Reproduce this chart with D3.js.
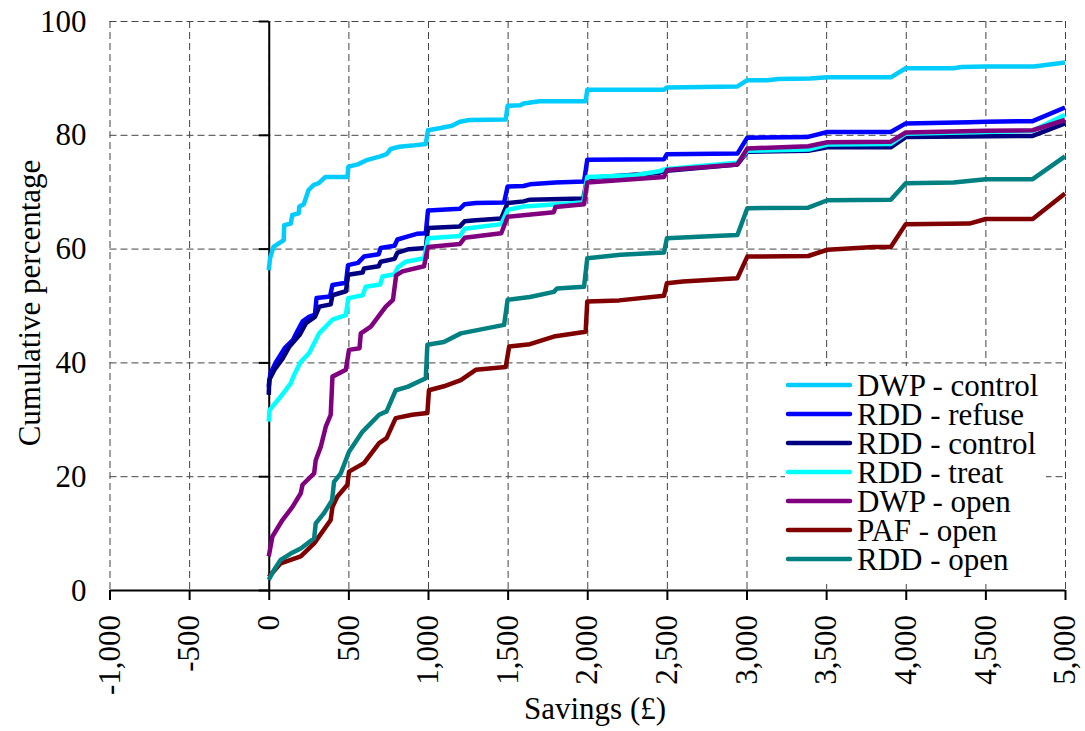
<!DOCTYPE html>
<html>
<head>
<meta charset="utf-8">
<script src="https://cdn.jsdelivr.net/npm/d3@7"></script>
<style>
  body { margin: 0; background: #fff; }
  .grid line { stroke: #444; stroke-width: 1; stroke-dasharray: 7,4; }
  .grid path { display: none; }
  .axis path, .axis line { stroke: #000; stroke-width: 2; }
</style>
</head>
<body>
<div id="chart"></div>
<script>
// axis ticks
var xTicks = [-1000, -500, 0, 500, 1000, 1500, 2000, 2500, 3000, 3500, 4000, 4500, 5000];
var yTicks = [0, 20, 40, 60, 80, 100];

// series: [savings, cumulative %]
var seriesNames = ["DWP - control", "RDD - refuse", "RDD - control", "RDD - treat", "DWP - open", "PAF - open", "RDD - open"];
var seriesColors = ["#00ccff", "#0000ff", "#000080", "#00ffff", "#800080", "#800000", "#008080"];

var dwpControl = [[0,56.2],[8,58.3],[30,60.3],[94,61.5],[97,64.1],[138,64.4],[148,65.9],[188,66.2],[192,67.4],[220,67.8],[250,70.3],[283,71.2],[314,71.5],[356,72.6],[494,72.6],[500,74.4],[560,74.8],[620,75.6],[700,76.2],[740,76.6],[766,77.5],[820,77.9],[900,78.1],[986,78.4],[1000,80.8],[1080,81.2],[1150,81.6],[1200,82.3],[1260,82.6],[1488,82.7],[1500,85.1],[1580,85.2],[1600,85.5],[1700,85.9],[1990,85.9],[2000,87.9],[2482,87.9],[2500,88.3],[2943,88.5],[3005,89.6],[3130,89.6],[3200,89.8],[3400,89.9],[3508,90.1],[3906,90.1],[4000,91.7],[4300,91.7],[4350,91.9],[4502,92.0],[4806,92.0],[5000,92.7]];
var rddRefuse = [[0,35.7],[10,38.0],[46,40.1],[100,42.5],[151,43.9],[180,45.5],[213,47.2],[253,48.0],[290,48.4],[300,51.3],[385,51.6],[400,53.6],[485,54.0],[498,57.1],[560,57.5],[598,58.6],[690,59.0],[703,60.1],[790,60.5],[808,61.6],[880,62.2],[930,62.6],[986,62.7],[1000,66.7],[1200,67.0],[1230,67.8],[1300,68.0],[1478,68.1],[1500,70.9],[1600,71.0],[1640,71.3],[1800,71.6],[1980,71.8],[2000,75.6],[2482,75.7],[2500,76.6],[2943,76.7],[3005,79.5],[3380,79.6],[3508,80.5],[3906,80.5],[4000,82.0],[4400,82.2],[4502,82.3],[4797,82.4],[5000,84.8]];
var rddControl = [[0,34.3],[3,36.9],[36,38.7],[88,40.7],[130,42.8],[193,44.8],[234,46.9],[290,48.0],[318,49.8],[389,50.2],[400,51.8],[485,52.5],[498,55.4],[590,55.8],[598,56.5],[690,56.9],[703,57.7],[790,58.2],[808,59.3],[880,59.9],[986,60.1],[1000,63.6],[1200,63.9],[1230,64.8],[1300,65.0],[1460,65.3],[1500,68.0],[1600,68.3],[1640,68.6],[1975,68.8],[2000,72.4],[2450,73.3],[2500,73.7],[2943,74.8],[3005,77.0],[3388,77.2],[3508,77.8],[3906,77.8],[4000,79.6],[4797,79.8],[5000,82.0]];
var rddTreat = [[0,29.6],[5,31.6],[75,34.0],[138,36.3],[159,37.8],[201,40.1],[253,41.6],[295,43.9],[316,45.1],[400,47.5],[484,48.3],[500,51.3],[590,51.8],[609,53.3],[700,53.7],[714,55.1],[790,55.5],[810,56.7],[860,57.7],[975,58.3],[1000,61.8],[1200,62.2],[1230,63.5],[1460,64.3],[1500,66.8],[1600,67.4],[1975,68.1],[2000,72.6],[2300,72.9],[2450,73.6],[2500,74.0],[2943,75.1],[3005,77.2],[3388,77.4],[3508,78.3],[3906,78.4],[4000,80.2],[4797,80.7],[5000,83.5]];
var dwpOpen = [[0,5.9],[23,9.4],[86,12.3],[149,14.6],[201,17.0],[212,18.5],[285,20.5],[295,22.8],[327,25.2],[358,28.7],[389,30.8],[400,37.5],[484,38.7],[504,42.2],[570,42.5],[578,45.1],[641,46.3],[703,48.6],[735,49.8],[780,51.0],[800,55.3],[840,56.0],[975,56.9],[1000,60.3],[1200,60.8],[1230,61.9],[1460,62.7],[1500,65.6],[1790,66.4],[1800,67.3],[1980,67.8],[2000,71.6],[2482,72.6],[2500,73.8],[2943,74.8],[3005,77.6],[3388,78.0],[3508,78.7],[3906,78.8],[4000,80.4],[4502,80.7],[4797,80.8],[5000,82.6]];
var pafOpen = [[0,2.3],[75,4.7],[201,5.9],[285,8.2],[389,12.3],[400,14.6],[430,16.4],[494,18.5],[504,20.8],[598,22.3],[693,25.8],[740,26.7],[797,30.2],[900,30.8],[996,31.1],[1006,35.1],[1100,35.8],[1206,36.9],[1300,38.7],[1488,39.2],[1510,42.8],[1640,43.2],[1800,44.6],[1990,45.4],[2000,50.7],[2200,50.9],[2482,51.7],[2500,53.9],[2600,54.2],[2943,54.8],[3005,58.6],[3388,58.7],[3508,59.8],[3800,60.3],[3906,60.3],[4000,64.3],[4400,64.4],[4502,65.2],[4797,65.2],[5000,69.7]];
var rddOpen = [[0,1.8],[33,3.5],[75,5.3],[138,6.4],[201,7.3],[285,9.1],[295,11.7],[347,13.5],[398,15.8],[410,19.0],[452,20.5],[504,24.3],[588,27.8],[693,30.8],[740,31.4],[797,35.1],[871,35.7],[986,37.2],[996,43.1],[1100,43.6],[1206,45.1],[1478,46.6],[1500,51.0],[1640,51.5],[1790,52.4],[1810,53.0],[1980,53.3],[2000,58.3],[2210,58.9],[2482,59.3],[2500,61.8],[2800,62.2],[2943,62.4],[3005,67.1],[3388,67.2],[3508,68.5],[3906,68.6],[4000,71.5],[4300,71.6],[4502,72.2],[4797,72.2],[5000,76.2]];

var seriesData = [dwpControl, rddRefuse, rddControl, rddTreat, dwpOpen, pafOpen, rddOpen];

var W = 1085, H = 731;
var margin = { top: 21, right: 20, bottom: 141, left: 109.5 };
var width = W - margin.left - margin.right;
var height = H - margin.top - margin.bottom;
var fontSize = 31;
var fontFamily = "Liberation Serif";

var x = d3.scaleLinear().domain([-1000, 5000]).range([0, width]);
var y = d3.scaleLinear().domain([0, 100]).range([height, 0]);

var locale = d3.formatLocale({ decimal: ".", thousands: ",", grouping: [3], currency: ["", ""], minus: "-" });
var fmt = locale.format(",");

var svg = d3.select("#chart").append("svg")
    .attr("width", W)
    .attr("height", H)
    .attr("font-family", fontFamily)
    .append("g")
    .attr("transform", "translate(" + margin.left + "," + margin.top + ")");

// dashed grid
svg.append("g")
  .attr("class", "grid")
  .call(d3.axisBottom(x).tickValues(xTicks).tickSize(height).tickFormat(""));
svg.append("g")
  .attr("class", "grid")
  .call(d3.axisLeft(y).tickValues(yTicks.slice(1)).tickSize(-width).tickFormat(""));

// x axis along 0 %
svg.append("g")
  .attr("class", "axis")
  .attr("transform", "translate(0," + height + ")")
  .call(d3.axisBottom(x).tickValues(xTicks).tickSize(10).tickSizeOuter(0).tickFormat(""));

svg.append("g")
  .selectAll("text")
  .data(xTicks)
  .enter().append("text")
  .attr("transform", function(d) { return "translate(" + x(d) + "," + (height + 25) + ") rotate(-90)"; })
  .attr("text-anchor", "end")
  .attr("dy", "0.33em")
  .attr("font-family", fontFamily)
  .attr("font-size", fontSize)
  .text(function(d) { return fmt(d); });

// y axis at savings 0
svg.append("g")
  .attr("class", "axis")
  .attr("transform", "translate(" + x(0) + ",0)")
  .call(d3.axisLeft(y).tickValues(yTicks).tickSize(10).tickSizeOuter(0).tickFormat(""));

svg.append("g")
  .selectAll("text")
  .data(yTicks)
  .enter().append("text")
  .attr("x", -23)
  .attr("y", function(d) { return y(d); })
  .attr("dy", "0.34em")
  .attr("text-anchor", "end")
  .attr("font-family", fontFamily)
  .attr("font-size", fontSize)
  .text(function(d) { return d; });

// axis titles
svg.append("text")
  .attr("x", 595 - margin.left)
  .attr("y", 719 - margin.top)
  .attr("text-anchor", "middle")
  .attr("font-family", fontFamily)
  .attr("font-size", fontSize)
  .text("Savings (£)");

svg.append("text")
  .attr("transform", "translate(" + (40 - margin.left) + "," + (303 - margin.top) + ") rotate(-90)")
  .attr("text-anchor", "middle")
  .attr("font-family", fontFamily)
  .attr("font-size", fontSize)
  .text("Cumulative percentage");

// the curves
var line = d3.line()
    .x(function(d) { return x(d[0]); })
    .y(function(d) { return y(d[1]); });

svg.append("g")
  .selectAll("path")
  .data(seriesData)
  .enter().append("path")
  .attr("fill", "none")
  .attr("stroke", function(d, i) { return seriesColors[i]; })
  .attr("stroke-width", 4.5)
  .attr("stroke-linejoin", "round")
  .attr("d", line);

// legend
var legend = svg.append("g")
  .attr("transform", "translate(" + (785 - margin.left) + "," + (366 - margin.top) + ")");

legend.append("rect")
  .attr("width", 261)
  .attr("height", 218)
  .attr("fill", "#fff");

var rows = legend.selectAll("g.row")
  .data(seriesNames)
  .enter().append("g")
  .attr("class", "row")
  .attr("transform", function(d, i) { return "translate(0," + (19 + i * 29) + ")"; });

rows.append("line")
  .attr("x1", 3).attr("x2", 65)
  .attr("stroke", function(d, i) { return seriesColors[i]; })
  .attr("stroke-width", 4.5)
  .attr("stroke-linecap", "round");

rows.append("text")
  .attr("x", 72)
  .attr("dy", "0.34em")
  .attr("font-family", fontFamily)
  .attr("font-size", fontSize)
  .text(function(d) { return d; });
</script>
</body>
</html>
